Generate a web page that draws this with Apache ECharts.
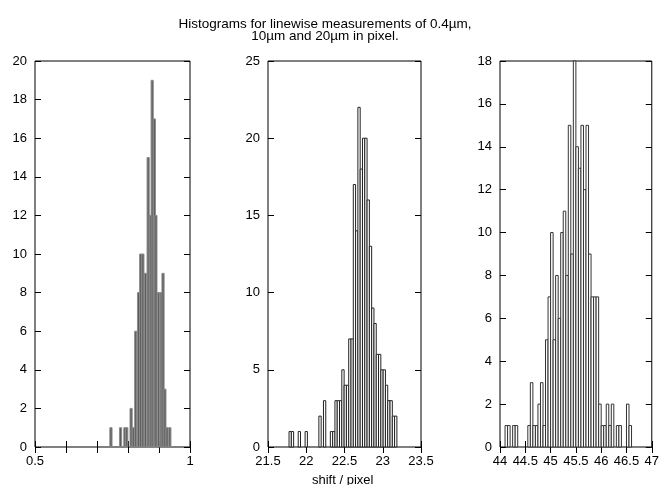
<!DOCTYPE html>
<html>
<head>
<meta charset="utf-8">
<script src="https://cdn.jsdelivr.net/npm/echarts@6/dist/echarts.min.js"></script>
<style>
  html, body { margin: 0; padding: 0; background: #fff; }
  #chart { width: 662px; height: 485px; }
</style>
</head>
<body>
<div id="chart"></div>
<script>
// 0.4um: bin centres (irregular), counts per bin
const p1Centers = [0.745, 0.776, 0.790, 0.796, 0.810, 0.817, 0.825, 0.834, 0.841, 0.848, 0.856,
  0.865, 0.872, 0.878, 0.885, 0.890, 0.899, 0.907, 0.913, 0.919, 0.926, 0.935]
const p1Counts = [1, 1, 1, 1, 2, 1, 6, 8, 10, 10, 9, 15, 12, 19, 17, 12, 8, 8, 9, 3, 1, 1]
const p1BinWidth = 0.007

// 10um: regular bins
const p2Start = 21.775
const p2BinWidth = 0.03
const p2Counts = [1, 1, 0, 0, 1, 0, 0, 1, 0, 0, 0, 0, 0, 2, 0, 3, 0, 0, 1, 1, 3, 3, 3, 5, 4, 4,
  7, 7, 17, 14, 22, 18, 20, 20, 16, 13, 9, 8, 6, 6, 5, 5, 4, 3, 3, 2, 2]

// 20um: regular bins
const p3Start = 44.1
const p3BinWidth = 0.05
const p3Counts = [1, 1, 0, 1, 1, 0, 0, 0, 0, 1, 3, 1, 1, 2, 3, 1, 5, 7, 10, 5, 8, 6, 10, 11, 8,
  15, 9, 18, 14, 13, 15, 12, 15, 9, 7, 7, 7, 2, 1, 1, 2, 1, 2, 0, 1, 1, 0, 0, 2, 1]

const titleLines = ['Histograms for linewise measurements of 0.4\u00b5m,', '10\u00b5m and 20\u00b5m in pixel.']
const xName = 'shift / pixel'

const FONT = '"Liberation Sans", Arial, sans-serif'

function regularBins(start, w, counts) {
  return counts.map((c, i) => [start + (i + 0.5) * w, c])
}

function histSeries(idx, data, w, fill, stroke) {
  return {
    type: 'custom',
    xAxisIndex: idx * 2, yAxisIndex: idx * 2,
    data: data.filter(d => d[1] > 0),
    renderItem(params, api) {
      const x = api.value(0), h = api.value(1)
      const a = api.coord([x - w / 2, h])
      const b = api.coord([x + w / 2, 0])
      return {
        type: 'rect',
        shape: { x: a[0], y: a[1], width: b[0] - a[0], height: b[1] - a[1] },
        style: { fill, stroke, lineWidth: 1 },
      }
    },
  }
}

const grids = [
  { left: 35, top: 61, width: 155, height: 386 },
  { left: 268, top: 61, width: 153, height: 386 },
  { left: 500, top: 61, width: 154, height: 386 },
].map(g => ({ ...g, show: true, borderColor: '#000', borderWidth: 1, backgroundColor: 'transparent' }))

const tick = { show: true, inside: true, length: 6, lineStyle: { color: '#000', width: 1 } }
const label = { color: '#000', fontSize: 13, fontFamily: FONT }

function xAxes(gi, min, max, interval, fmt) {
  return [
    { type: 'value', gridIndex: gi, min, max, interval, position: 'bottom',
      axisLine: { show: false }, axisTick: tick, splitLine: { show: false },
      axisLabel: { ...label, margin: 8, formatter: fmt || (v => String(+v.toFixed(2))) } },
    { type: 'value', gridIndex: gi, min, max, interval, position: 'top',
      axisLine: { show: false }, axisTick: tick, splitLine: { show: false }, axisLabel: { show: false } },
  ]
}

function yAxes(gi, max, interval) {
  return [
    { type: 'value', gridIndex: gi, min: 0, max, interval, position: 'left',
      axisLine: { show: false }, axisTick: tick, splitLine: { show: false },
      axisLabel: { ...label, margin: 8 } },
    { type: 'value', gridIndex: gi, min: 0, max, interval, position: 'right',
      axisLine: { show: false }, axisTick: tick, splitLine: { show: false }, axisLabel: { show: false } },
  ]
}

const chart = echarts.init(document.getElementById('chart'))
chart.setOption({
  animation: false,
  backgroundColor: '#fff',
  title: {
    text: titleLines.join('\n'),
    left: 320, top: 14, textAlign: 'center',
    textStyle: { fontSize: 13.5, fontWeight: 'normal', color: '#000', fontFamily: FONT, lineHeight: 11.5 },
  },
  graphic: [{
    type: 'text', left: 312, top: 474,
    style: { text: xName, fontSize: 13, fontFamily: FONT, fill: '#000' },
  }],
  grid: grids,
  xAxis: [
    ...xAxes(0, 0.5, 1, 0.1, v => (Math.abs(v - 0.5) < 1e-6 ? '0.5' : Math.abs(v - 1) < 1e-6 ? '1' : '')),
    ...xAxes(1, 21.5, 23.5, 0.5),
    ...xAxes(2, 44, 47, 0.5),
  ],
  yAxis: [
    ...yAxes(0, 20, 2),
    ...yAxes(1, 25, 5),
    ...yAxes(2, 18, 2),
  ],
  series: [
    histSeries(0, p1Centers.map((c, i) => [c, p1Counts[i]]), p1BinWidth, '#5c5c5c', '#8c8c8c'),
    histSeries(1, regularBins(p2Start, p2BinWidth, p2Counts), p2BinWidth, '#fff', '#222'),
    histSeries(2, regularBins(p3Start, p3BinWidth, p3Counts), p3BinWidth, '#fff', '#333'),
  ],
})
</script>
</body>
</html>
